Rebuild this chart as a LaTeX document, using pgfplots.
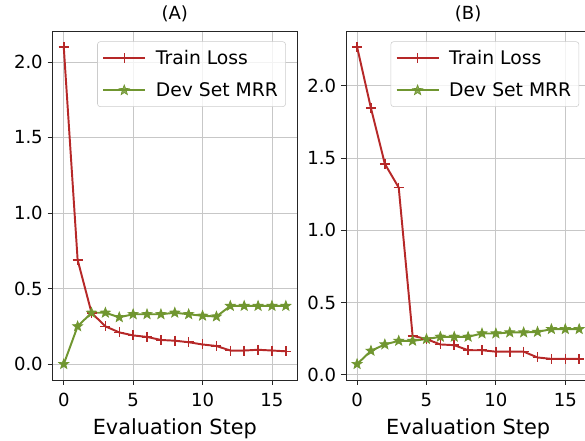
\documentclass[border=0pt]{standalone}
\usepackage{fontspec}
\setmainfont{DejaVu Sans}
\usepackage{pgfplots}
\pgfplotsset{compat=1.18}
\definecolor{lossred}{RGB}{182,40,40}
\definecolor{mrrgreen}{RGB}{112,150,48}

% filled five-point star, like matplotlib's '*'
\pgfdeclareplotmark{fstar}{%
  \pgfpathmoveto{\pgfpointpolar{90}{\pgfplotmarksize}}%
  \pgfpathlineto{\pgfpointpolar{126}{0.42\pgfplotmarksize}}%
  \pgfpathlineto{\pgfpointpolar{162}{\pgfplotmarksize}}%
  \pgfpathlineto{\pgfpointpolar{198}{0.42\pgfplotmarksize}}%
  \pgfpathlineto{\pgfpointpolar{234}{\pgfplotmarksize}}%
  \pgfpathlineto{\pgfpointpolar{270}{0.42\pgfplotmarksize}}%
  \pgfpathlineto{\pgfpointpolar{306}{\pgfplotmarksize}}%
  \pgfpathlineto{\pgfpointpolar{342}{0.42\pgfplotmarksize}}%
  \pgfpathlineto{\pgfpointpolar{18}{\pgfplotmarksize}}%
  \pgfpathlineto{\pgfpointpolar{54}{0.42\pgfplotmarksize}}%
  \pgfpathclose
  \pgfusepathqfillstroke}

\pgfplotstableread{
step lossA mrrA lossB mrrB
0  2.10  0.000 2.27  0.074
1  0.69  0.250 1.845 0.166
2  0.34  0.340 1.46  0.210
3  0.25  0.340 1.296 0.235
4  0.21  0.310 0.27  0.235
5  0.19  0.330 0.247 0.247
6  0.18  0.330 0.21  0.263
7  0.16  0.330 0.205 0.263
8  0.155 0.340 0.17  0.263
9  0.145 0.330 0.17  0.286
10 0.13  0.320 0.16  0.286
11 0.12  0.315 0.16  0.293
12 0.09  0.385 0.16  0.293
13 0.09  0.385 0.12  0.297
14 0.095 0.385 0.11  0.316
15 0.09  0.385 0.11  0.316
16 0.085 0.385 0.11  0.316
}\runs

\pgfplotsset{
  panel/.style={
    scale only axis,
    width=175.9pt, height=251.3pt,
    anchor=south west,
    xmin=-0.8, xmax=16.8,
    xtick={0,5,10,15},
    xtick pos=bottom, ytick pos=left,
    tick align=outside,
    major tick length=3.6pt,
    every tick/.style={black!85, line width=0.6pt},
    axis line style={black!85, line width=0.6pt},
    grid=major,
    major grid style={black!22, line width=0.6pt},
    /pgf/number format/assume math mode=true,
    tick label style={font=\fontsize{13}{15}\selectfont},
    xticklabel style={yshift=-2.5pt},
    yticklabel style={/pgf/number format/fixed, /pgf/number format/fixed zerofill, /pgf/number format/precision=1},
    xlabel={Evaluation Step},
    xlabel style={font=\fontsize{15}{17}\selectfont, at={(axis description cs:0.5,0)}, anchor=base, yshift=-39pt},
    title style={font=\fontsize{13}{15}\selectfont, at={(axis description cs:0.5,1)}, anchor=base, yshift=2.5pt},
    legend cell align=left,
    legend style={
      at={(axis description cs:1,1)}, anchor=north east,
      xshift=-8pt, yshift=-7.5pt,
      draw=black!20, rounded corners=2pt,
      fill=white, fill opacity=0.8, text opacity=1,
      font=\fontsize{13.5}{16}\selectfont,
      inner xsep=3.5pt, inner ysep=4pt,
      row sep=7.5pt,
      /tikz/every odd column/.append style={column sep=5pt},
    },
    legend image code/.code={%
      \draw[mark repeat=2, mark phase=2] plot coordinates {(0cm,0cm) (0.53cm,0cm) (1.06cm,0cm)};},
  },
  loss/.style={lossred, line width=1.4pt, mark=+, mark size=3.6pt, mark options={line width=1.1pt}},
  mrr/.style={mrrgreen, line width=1.4pt, mark=fstar, mark size=3.8pt, mark options={line width=0.5pt, fill=mrrgreen}},
}

\begin{document}
\begin{tikzpicture}
\begin{axis}[panel, at={(37.9pt,43.9pt)},
  ymin=-0.105, ymax=2.205, ytick={0,0.5,1,1.5,2},
  title={(A)}]
\addplot[loss] table[x=step, y=lossA] {\runs};
\addlegendentry{Train Loss}
\addplot[mrr] table[x=step, y=mrrA] {\runs};
\addlegendentry{Dev Set MRR}
\end{axis}
\begin{axis}[panel, at={(249.1pt,43.9pt)},
  ymin=-0.036, ymax=2.38, ytick={0,0.5,1,1.5,2},
  title={(B)}]
\addplot[loss] table[x=step, y=lossB] {\runs};
\addlegendentry{Train Loss}
\addplot[mrr] table[x=step, y=mrrB] {\runs};
\addlegendentry{Dev Set MRR}
\end{axis}
\pgfresetboundingbox
\path[use as bounding box] (0,0) rectangle (421.2pt,317.5pt);
\end{tikzpicture}
\end{document}
